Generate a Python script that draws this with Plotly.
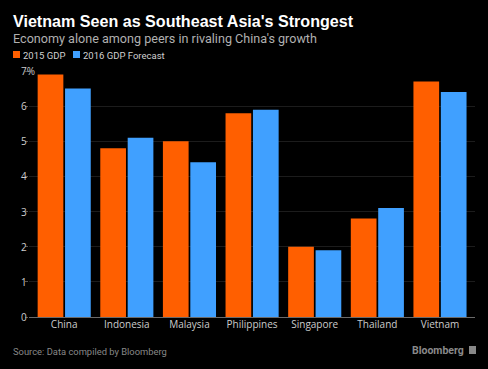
import plotly.graph_objects as go

countries = ["China", "Indonesia", "Malaysia", "Philippines", "Singapore", "Thailand", "Vietnam"]
gdp_2015 = [6.9, 4.8, 5.0, 5.8, 2.0, 2.8, 6.7]
gdp_2016 = [6.5, 5.1, 4.4, 5.9, 1.9, 3.1, 6.4]
y_ticks = [0, 1, 2, 3, 4, 5, 6, 7]
y_tick_labels = ["0", "1", "2", "3", "4", "5", "6", "7%"]

ORANGE = "#FF5F00"
BLUE = "#40A0FF"

fig = go.Figure()
fig.add_trace(go.Bar(x=countries, y=gdp_2015, name="2015 GDP", marker=dict(color=ORANGE, line=dict(width=0))))
fig.add_trace(go.Bar(x=countries, y=gdp_2016, name="2016 GDP Forecast", marker=dict(color=BLUE, line=dict(width=0))))

L, R, T, B = 29, 13, 71, 52
W, HT = 488, 369

fig.update_layout(
    width=W, height=HT,
    paper_bgcolor="#000000", plot_bgcolor="#000000",
    margin=dict(l=L, r=R, t=T, b=B),
    barmode="group", bargap=0.125, bargroupgap=0.062,
    showlegend=False,
    font=dict(family="Open Sans, sans-serif", color="#cccccc", size=10),
    xaxis=dict(range=[-0.562, 6.559], showgrid=False, zeroline=False,
               showline=False, ticks="", tickfont=dict(size=10, color="#cccccc")),
    yaxis=dict(range=[0, 7], tickvals=y_ticks, showticklabels=False,
               showgrid=True, gridcolor="#1c1c1c", gridwidth=1,
               zeroline=True, zerolinecolor="#6a6a6a", zerolinewidth=1,
               ticks="outside", ticklen=3, tickcolor="#555555", showline=False),
)

H = HT - T - B
def py(pix):
    return (HT - B - pix) / H
def px(pix):
    return (pix - L) / (W - L - R)

def note(text, x, y, anchor, family, size, color):
    fig.add_annotation(text=text, xref="paper", yref="paper", x=px(x), y=py(y),
                       xanchor=anchor, yanchor="middle", showarrow=False, borderpad=0,
                       font=dict(family=family, size=size, color=color))

# left-aligned y tick labels
for v, lab in zip(y_ticks, y_tick_labels):
    fig.add_annotation(text=lab, xref="paper", yref="y", x=px(20), y=v, xanchor="left", yanchor="middle",
                       showarrow=False, borderpad=0, font=dict(family="Open Sans", size=10, color="#cccccc"))

note("<b>Vietnam Seen as Southeast Asia's Strongest</b>", 12, 21, "left", "Liberation Sans", 16.1, "#ffffff")
note("Economy alone among peers in rivaling China's growth", 12, 38, "left", "Roboto", 12.6, "#b0b0b0")
# legend
fig.add_shape(type="rect", xref="paper", yref="paper", x0=px(13), x1=px(20), y0=py(58), y1=py(51),
              fillcolor=ORANGE, line=dict(width=0))
note("2015 GDP", 22, 55, "left", "Roboto", 9.5, "#d0d0d0")
fig.add_shape(type="rect", xref="paper", yref="paper", x0=px(73), x1=px(80), y0=py(58), y1=py(51),
              fillcolor=BLUE, line=dict(width=0))
note("2016 GDP Forecast", 82, 55, "left", "Roboto", 9.5, "#d0d0d0")
# footer
note("Source: Data compiled by Bloomberg", 12, 351, "left", "Roboto", 9.4, "#888888")
note("<b>Bloomberg</b>", 465, 350, "right", "Roboto", 10.5, "#8a8a8a")
fig.add_shape(type="rect", xref="paper", yref="paper", x0=px(469), x1=px(476), y0=py(354), y1=py(346),
              fillcolor="#888888", line=dict(width=0))

fig.write_html("out.html", config={"displayModeBar": False},
               post_script="document.body.style.margin='0';document.body.style.background='#000';")
